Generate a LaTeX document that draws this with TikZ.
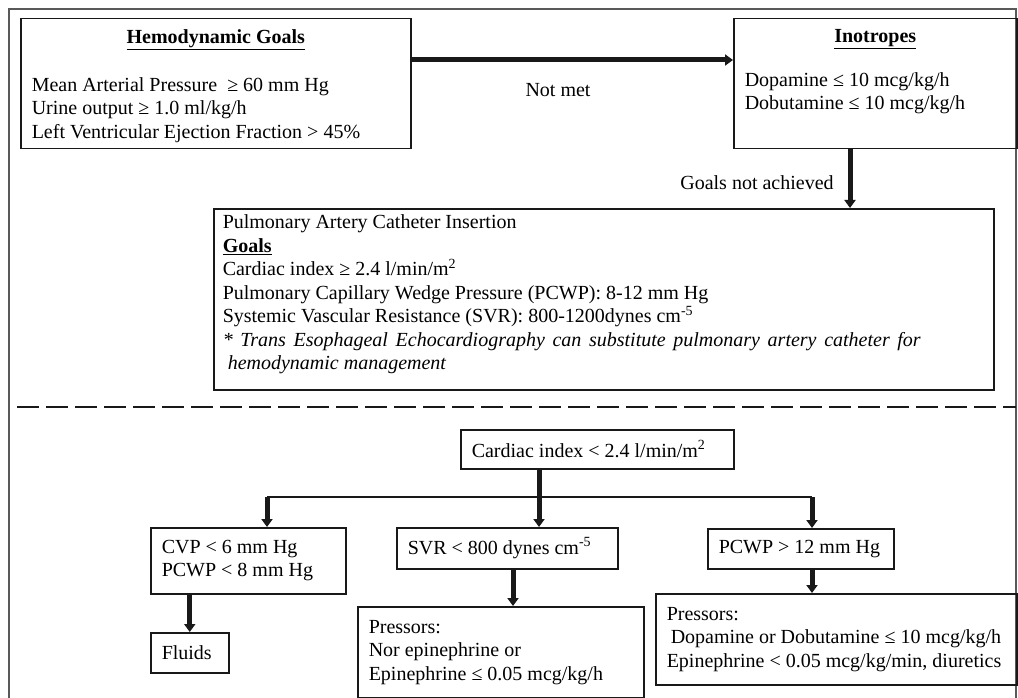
\documentclass[tikz,border=0pt]{standalone}
\usepackage{fontspec}
\setmainfont{Liberation Serif}
\usetikzlibrary{arrows.meta,positioning}

\begin{document}
\begin{tikzpicture}[x=1pt, y=-1pt,
  box/.style={draw=black!90, line width=1.5pt, anchor=north west, inner xsep=11pt, inner ysep=0pt, font=\fontsize{20}{23.5}\selectfont},
  note/.style={font=\fontsize{20}{23.5}\selectfont},
  flow/.style={draw=black!90, line width=5pt, -{Triangle[length=8pt,width=11pt]}},
  branch/.style={draw=black!90, line width=2.5pt}]
  \useasboundingbox (0,0) rectangle (1018,698);
  \draw[line width=1.5pt, black!65] (9,720) -- (9,9) -- (1016,9) -- (1016,720);

  \node (hemo) [box] at (20,18) {\parbox[c][130pt][t]{368pt}{\vspace*{11pt}{\centering\underline{\textbf{Hemodynamic Goals}}\par}\vspace{24pt}Mean Arterial Pressure \ ≥ 60 mm Hg\\Urine output ≥ 1.0 ml/kg/h\\Left Ventricular Ejection Fraction > 45\%}};
  \node (ino) [box] at (733,18) {\parbox[c][130pt][t]{261pt}{\vspace*{11pt}{\centering\underline{\textbf{Inotropes}}\par}\vspace{20pt}Dopamine ≤ 10 mcg/kg/h\\Dobutamine ≤ 10 mcg/kg/h}};
  \node (pac) [box, inner xsep=9pt] at (213,208) {\parbox[c][181pt][t]{762pt}{\vspace*{6pt}Pulmonary Artery Catheter Insertion\\\underline{\textbf{Goals}}\\Cardiac index ≥ 2.4 l/min/m\textsuperscript{2}\\Pulmonary Capillary Wedge Pressure (PCWP): 8-12 mm Hg\\Systemic Vascular Resistance (SVR): 800-1200dynes cm\textsuperscript{-5}\\\makebox[698pt][s]{\itshape * Trans Esophageal Echocardiography can substitute pulmonary artery catheter for}\\\hspace*{5pt}\textit{hemodynamic management}}};

  \node (notmet) [note] at (558,90) {Not met};
  \node (notach) [note] at (757,183) {Goals not achieved};

  % lower part
  \draw[line width=2.5pt, black!90, dash pattern=on 22pt off 7pt] (17,407) -- (1016,407);

  \node (cardiac) [box] at (460,429) {\parbox[c][39pt][c]{251pt}{Cardiac index < 2.4 l/min/m\textsuperscript{2}}};
  \node (cvp) [box] at (150,527) {\parbox[c][66pt][c]{173pt}{CVP < 6 mm Hg\\PCWP < 8 mm Hg}};
  \node (fluids) [box] at (150,632) {\parbox[c][40pt][c]{56pt}{Fluids}};
  \node (svr) [box] at (396,527) {\parbox[c][41pt][c]{199pt}{SVR < 800 dynes cm\textsuperscript{-5}}};
  \node (pres1) [box] at (357,606) {\parbox[c][91pt][c]{264pt}{Pressors:\\Nor epinephrine or\\Epinephrine ≤ 0.05 mcg/kg/h}};
  \node (pcwp) [box] at (707,528) {\parbox[c][40pt][c]{164pt}{PCWP > 12 mm Hg}};
  \node (pres2) [box] at (655,593) {\parbox[c][91pt][c]{339pt}{Pressors:\\\hspace*{4pt}Dopamine or Dobutamine ≤ 10 mcg/kg/h\\Epinephrine < 0.05 mcg/kg/min, diuretics}};

  \coordinate (goalrow) at (0,60);
  \coordinate (drop) at (850,0);
  \coordinate (split) at (539,497);
  \coordinate (lefttap) at (267,497);
  \coordinate (righttap) at (812,497);
  \coordinate (svrdrop) at (513,0);

  \draw[flow] (hemo.east |- goalrow) -- (ino.west |- goalrow);
  \draw[flow] (ino.south -| drop) -- (pac.north -| drop);
  \draw[flow] (cardiac.south -| split) -- (svr.north -| split);
  \draw[branch] (lefttap) -- (righttap);
  \draw[flow] (lefttap) -- (cvp.north -| lefttap);
  \draw[flow] (righttap) -- (pcwp.north -| righttap);
  \draw[flow] (cvp.south -| fluids) -- (fluids);
  \draw[flow] (svr.south -| svrdrop) -- (pres1.north -| svrdrop);
  \draw[flow] (pcwp.south -| righttap) -- (pres2.north -| righttap);
\end{tikzpicture}
\end{document}
